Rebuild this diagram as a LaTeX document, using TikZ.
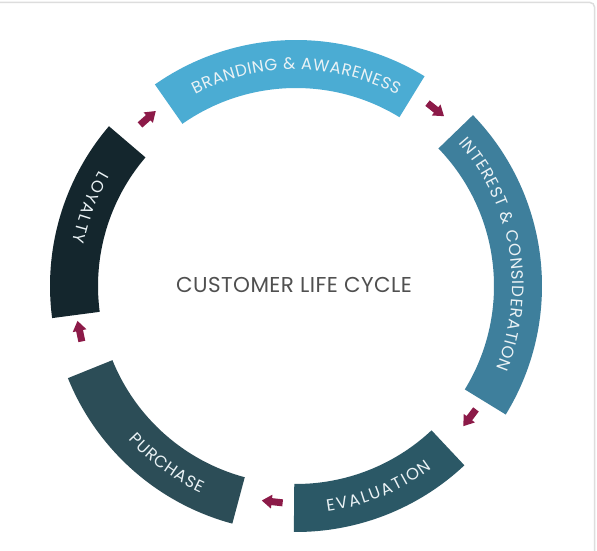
\documentclass[tikz,border=0pt]{standalone}
\usepackage{fontspec}
\setmainfont{Poppins}
\usetikzlibrary{decorations.text}
\definecolor{brandcol}{HTML}{4BACD3}
\definecolor{interestcol}{HTML}{3E7F9C}
\definecolor{evalcol}{HTML}{2B5866}
\definecolor{purchcol}{HTML}{2C4D57}
\definecolor{loyalcol}{HTML}{14262D}
\definecolor{arrowcol}{HTML}{8C1A48}
\definecolor{bandtext}{HTML}{EAF2F5}
\definecolor{centertext}{HTML}{505050}
\definecolor{bordercol}{HTML}{DDDDDD}
\newcommand{\bandfont}{\fontsize{16.5}{17}\selectfont}
\tikzset{
  ringband/.style={fill=#1},
  flowarrow/.style={fill=arrowcol},
  bandlabel/.style={decorate, decoration={text along path, text align=fit to path, text color=bandtext, text={|\bandfont|#1}}},
}
% annular sector: #1 start angle, #2 end angle
\newcommand{\ringsector}[3]{\fill[ringband=#3] (#1:246) arc[start angle=#1, end angle=#2, radius=246] -- (#2:198) arc[start angle=#2, end angle=#1, radius=198] -- cycle;}
\newcommand{\cyclearrow}[2]{\begin{scope}[shift={(#1:#2)}, rotate=#1-90]
  \fill[flowarrow] (-10.5,-3.5) -- (0.5,-3.5) -- (0.5,-7) -- (10.5,0) -- (0.5,7) -- (0.5,3.5) -- (-10.5,3.5) -- cycle;
\end{scope}}
\begin{document}
\begin{tikzpicture}[x=1pt,y=1pt]
\useasboundingbox (0,0) rectangle (597,551);
\fill[white] (0,0) rectangle (597,551);
\draw[bordercol, line width=1.5pt] (-2,548.5) -- (590,548.5) arc[start angle=90, end angle=0, radius=4.5] -- (594.5,-2);
\begin{scope}[shift={(296,265)}]
  \ringsector{58.5}{125}{brandcol}
  \ringsector{-31.5}{44}{interestcol}
  \ringsector{-90.5}{-46.8}{evalcol}
  \ringsector{202}{255}{purchcol}
  \ringsector{139.5}{187.5}{loyalcol}
  % labels
  \path[bandlabel={BRANDING {\&} AWARENESS}] (117.8:216.3) arc[start angle=117.8, end angle=62.1, radius=216.3];
  \path[bandlabel={INTEREST {\&} CONSIDERATION}] (41.3:216.3) arc[start angle=41.3, end angle=-22.4, radius=216.3];
  \path[bandlabel={EVALUATION}] (-82.1:227.7) arc[start angle=-82.1, end angle=-53.2, radius=227.7];
  \path[bandlabel={PURCHASE}] (222.5:227.7) arc[start angle=222.5, end angle=245.2, radius=227.7];
  \path[bandlabel={LOYALTY}] (149.5:227.7) arc[start angle=149.5, end angle=168.8, radius=227.7];
  % arrows
  \cyclearrow{131.4}{224}
  \cyclearrow{51.6}{225}
  \cyclearrow{-37.2}{218}
  \cyclearrow{263.7}{217}
  \cyclearrow{191.8}{221}
  \node[text=centertext, font=\fontsize{21.5}{23}\selectfont\addfontfeature{LetterSpace=2}] (title) at (-2,1.5) {CUSTOMER LIFE CYCLE};
\end{scope}
\end{tikzpicture}
\end{document}
